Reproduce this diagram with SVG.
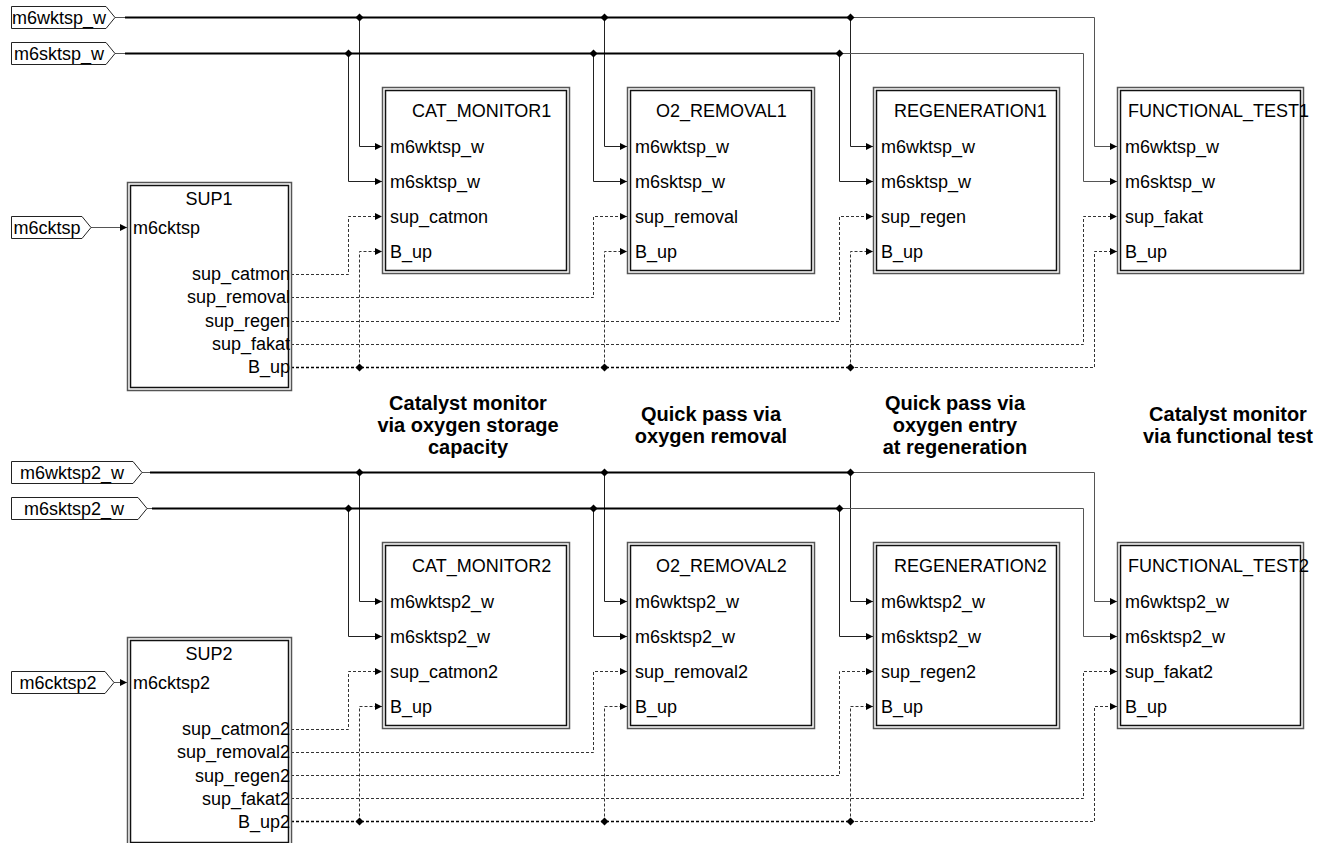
<svg xmlns="http://www.w3.org/2000/svg" xmlns:xlink="http://www.w3.org/1999/xlink" width="1318" height="843" viewBox="0 0 1318 843">
<style>
text{font-family:"Liberation Sans",Arial,sans-serif;font-size:18px;fill:#000}
.b{font-weight:bold;font-size:20px;text-anchor:middle}
.m{text-anchor:middle}
.e{text-anchor:end}
.sig{stroke:#555;stroke-width:1;fill:none}
.bus{stroke:#000;stroke-width:2;fill:none}
.drop{stroke:#222;stroke-width:1;fill:none}
.dt{stroke:#333;stroke-width:1;stroke-dasharray:3 2;fill:none}
.dtb{stroke:#000;stroke-width:1.6;stroke-dasharray:3 2;fill:none}
.outer{fill:#fff;stroke:#555;stroke-width:1.5}
.inner{fill:none;stroke:#111;stroke-width:1.5}
.tag{fill:#fff;stroke:#222;stroke-width:1}
.arr{marker-end:url(#ah)}
</style>
<defs>
<marker id="ah" markerUnits="userSpaceOnUse" markerWidth="8" markerHeight="8" refX="7" refY="3.5" orient="auto"><path d="M0,0 L7,3.5 L0,7 z" fill="#000"/></marker>
<path id="j" d="M-4,0 L0,-4 L4,0 L0,4 z" fill="#000"/>
</defs>

<g id="connectors">
<path class="sig" d="M115,17.5 H125"/>
<path class="bus" d="M125,17.5 H850"/>
<path class="sig arr" d="M850,17.5 H1094.5 V146.5 H1117"/>
<path class="drop arr" d="M359.5,17.5 V146.5 H382"/>
<path class="drop arr" d="M604.5,17.5 V146.5 H627"/>
<path class="drop arr" d="M850.5,17.5 V146.5 H873"/>
<path class="sig" d="M115,53.5 H125"/>
<path class="bus" d="M125,53.5 H839"/>
<path class="sig arr" d="M839,53.5 H1083.5 V181.5 H1117"/>
<path class="drop arr" d="M348.5,53.5 V181.5 H382"/>
<path class="drop arr" d="M593.5,53.5 V181.5 H627"/>
<path class="drop arr" d="M839.5,53.5 V181.5 H873"/>
<path class="sig arr" d="M91,227.5 H127"/>
<path class="dt arr" d="M291,274.5 H348.5 V216.5 H382"/>
<path class="dt arr" d="M291,297.5 H593.5 V216.5 H627"/>
<path class="dt arr" d="M291,321.5 H839.5 V216.5 H873"/>
<path class="dt arr" d="M291,344.5 H1083.5 V216.5 H1117"/>
<path class="dtb" d="M291,367.5 H850"/>
<path class="dt arr" d="M850,367.5 H1094.5 V251.5 H1117"/>
<path class="dt arr" d="M359.5,367.5 V251.5 H382"/>
<path class="dt arr" d="M604.5,367.5 V251.5 H627"/>
<path class="dt arr" d="M850.5,367.5 V251.5 H873"/>
<use xlink:href="#j" x="359.5" y="17.5"/><use xlink:href="#j" x="604.5" y="17.5"/><use xlink:href="#j" x="850.5" y="17.5"/>
<use xlink:href="#j" x="348.5" y="53.5"/><use xlink:href="#j" x="593.5" y="53.5"/><use xlink:href="#j" x="839.5" y="53.5"/>
<use xlink:href="#j" x="359.5" y="367.5"/><use xlink:href="#j" x="604.5" y="367.5"/><use xlink:href="#j" x="850.5" y="367.5"/>
<path class="sig" d="M142,472.5 H150"/>
<path class="bus" d="M150,472.5 H850"/>
<path class="sig arr" d="M850,472.5 H1094.5 V601.5 H1117"/>
<path class="drop arr" d="M359.5,472.5 V601.5 H382"/>
<path class="drop arr" d="M604.5,472.5 V601.5 H627"/>
<path class="drop arr" d="M850.5,472.5 V601.5 H873"/>
<path class="sig" d="M147,508.5 H152"/>
<path class="bus" d="M152,508.5 H839"/>
<path class="sig arr" d="M839,508.5 H1083.5 V636.5 H1117"/>
<path class="drop arr" d="M348.5,508.5 V636.5 H382"/>
<path class="drop arr" d="M593.5,508.5 V636.5 H627"/>
<path class="drop arr" d="M839.5,508.5 V636.5 H873"/>
<path class="sig arr" d="M114,682.5 H127"/>
<path class="dt arr" d="M291,729.5 H348.5 V671.5 H382"/>
<path class="dt arr" d="M291,752.5 H593.5 V671.5 H627"/>
<path class="dt arr" d="M291,775.5 H839.5 V671.5 H873"/>
<path class="dt arr" d="M291,798.5 H1083.5 V671.5 H1117"/>
<path class="dtb" d="M291,821.5 H850"/>
<path class="dt arr" d="M850,821.5 H1094.5 V706.5 H1117"/>
<path class="dt arr" d="M359.5,821.5 V706.5 H382"/>
<path class="dt arr" d="M604.5,821.5 V706.5 H627"/>
<path class="dt arr" d="M850.5,821.5 V706.5 H873"/>
<use xlink:href="#j" x="359.5" y="472.5"/><use xlink:href="#j" x="604.5" y="472.5"/><use xlink:href="#j" x="850.5" y="472.5"/>
<use xlink:href="#j" x="348.5" y="508.5"/><use xlink:href="#j" x="593.5" y="508.5"/><use xlink:href="#j" x="839.5" y="508.5"/>
<use xlink:href="#j" x="359.5" y="821.5"/><use xlink:href="#j" x="604.5" y="821.5"/><use xlink:href="#j" x="850.5" y="821.5"/>
</g>

<g id="in_m6wktsp_w"><path class="tag" d="M11.5,6.5 H106 L115,17.5 L106,28.5 H11.5 Z"/><text class="m" x="59" y="24">m6wktsp_w</text></g>
<g id="in_m6sktsp_w"><path class="tag" d="M11.5,42.5 H106 L115,53.5 L106,64.5 H11.5 Z"/><text class="m" x="59" y="60">m6sktsp_w</text></g>
<g id="in_m6cktsp"><path class="tag" d="M11.5,216.5 H82 L91,227.5 L82,238.5 H11.5 Z"/><text class="m" x="47" y="234">m6cktsp</text></g>
<g id="in_m6wktsp2_w"><path class="tag" d="M11.5,461.5 H133 L142,472.5 L133,483.5 H11.5 Z"/><text class="m" x="72" y="479">m6wktsp2_w</text></g>
<g id="in_m6sktsp2_w"><path class="tag" d="M11.5,497.5 H138 L147,508.5 L138,519.5 H11.5 Z"/><text class="m" x="74" y="515">m6sktsp2_w</text></g>
<g id="in_m6cktsp2"><path class="tag" d="M11.5,671.5 H105 L114,682.5 L105,693.5 H11.5 Z"/><text class="m" x="58" y="689">m6cktsp2</text></g>

<g id="SUP1">
<rect class="outer" x="127.5" y="182.5" width="164" height="208"/><rect class="inner" x="130.5" y="185.5" width="158" height="202"/>
<text class="m" x="209" y="205">SUP1</text>
<text x="133" y="234">m6cktsp</text>
<text class="e" x="290" y="280">sup_catmon</text>
<text class="e" x="290" y="303">sup_removal</text>
<text class="e" x="290" y="327">sup_regen</text>
<text class="e" x="290" y="350">sup_fakat</text>
<text class="e" x="290" y="373">B_up</text>
</g>
<g id="SUP2">
<rect class="outer" x="127.5" y="637.5" width="164" height="208"/><rect class="inner" x="130.5" y="640.5" width="158" height="202"/>
<text class="m" x="209" y="660">SUP2</text>
<text x="133" y="689">m6cktsp2</text>
<text class="e" x="290" y="735">sup_catmon2</text>
<text class="e" x="290" y="758">sup_removal2</text>
<text class="e" x="290" y="782">sup_regen2</text>
<text class="e" x="290" y="805">sup_fakat2</text>
<text class="e" x="290" y="828">B_up2</text>
</g>

<g id="CAT_MONITOR1">
<rect class="outer" x="382.5" y="87.5" width="187" height="186"/><rect class="inner" x="385.5" y="90.5" width="181" height="180"/>
<text x="412" y="117">CAT_MONITOR1</text>
<text x="390" y="153">m6wktsp_w</text><text x="390" y="188">m6sktsp_w</text><text x="390" y="223">sup_catmon</text><text x="390" y="258">B_up</text>
</g>
<g id="O2_REMOVAL1">
<rect class="outer" x="627.5" y="87.5" width="187" height="186"/><rect class="inner" x="630.5" y="90.5" width="181" height="180"/>
<text x="656" y="117">O2_REMOVAL1</text>
<text x="635" y="153">m6wktsp_w</text><text x="635" y="188">m6sktsp_w</text><text x="635" y="223">sup_removal</text><text x="635" y="258">B_up</text>
</g>
<g id="REGENERATION1">
<rect class="outer" x="873.5" y="87.5" width="186" height="186"/><rect class="inner" x="876.5" y="90.5" width="180" height="180"/>
<text x="894" y="117">REGENERATION1</text>
<text x="881" y="153">m6wktsp_w</text><text x="881" y="188">m6sktsp_w</text><text x="881" y="223">sup_regen</text><text x="881" y="258">B_up</text>
</g>
<g id="FUNCTIONAL_TEST1">
<rect class="outer" x="1117.5" y="87.5" width="186" height="186"/><rect class="inner" x="1120.5" y="90.5" width="180" height="180"/>
<text x="1128" y="117">FUNCTIONAL_TEST1</text>
<text x="1125" y="153">m6wktsp_w</text><text x="1125" y="188">m6sktsp_w</text><text x="1125" y="223">sup_fakat</text><text x="1125" y="258">B_up</text>
</g>

<g id="CAT_MONITOR2">
<rect class="outer" x="382.5" y="542.5" width="187" height="186"/><rect class="inner" x="385.5" y="545.5" width="181" height="180"/>
<text x="412" y="572">CAT_MONITOR2</text>
<text x="390" y="608">m6wktsp2_w</text><text x="390" y="643">m6sktsp2_w</text><text x="390" y="678">sup_catmon2</text><text x="390" y="713">B_up</text>
</g>
<g id="O2_REMOVAL2">
<rect class="outer" x="627.5" y="542.5" width="187" height="186"/><rect class="inner" x="630.5" y="545.5" width="181" height="180"/>
<text x="656" y="572">O2_REMOVAL2</text>
<text x="635" y="608">m6wktsp2_w</text><text x="635" y="643">m6sktsp2_w</text><text x="635" y="678">sup_removal2</text><text x="635" y="713">B_up</text>
</g>
<g id="REGENERATION2">
<rect class="outer" x="873.5" y="542.5" width="186" height="186"/><rect class="inner" x="876.5" y="545.5" width="180" height="180"/>
<text x="894" y="572">REGENERATION2</text>
<text x="881" y="608">m6wktsp2_w</text><text x="881" y="643">m6sktsp2_w</text><text x="881" y="678">sup_regen2</text><text x="881" y="713">B_up</text>
</g>
<g id="FUNCTIONAL_TEST2">
<rect class="outer" x="1117.5" y="542.5" width="186" height="186"/><rect class="inner" x="1120.5" y="545.5" width="180" height="180"/>
<text x="1128" y="572">FUNCTIONAL_TEST2</text>
<text x="1125" y="608">m6wktsp2_w</text><text x="1125" y="643">m6sktsp2_w</text><text x="1125" y="678">sup_fakat2</text><text x="1125" y="713">B_up</text>
</g>

<g id="notes">
<text class="b" x="468" y="410">Catalyst monitor</text>
<text class="b" x="468" y="432">via oxygen storage</text>
<text class="b" x="468" y="454">capacity</text>
<text class="b" x="711" y="421">Quick pass via</text>
<text class="b" x="711" y="443">oxygen removal</text>
<text class="b" x="955" y="410">Quick pass via</text>
<text class="b" x="955" y="432">oxygen entry</text>
<text class="b" x="955" y="454">at regeneration</text>
<text class="b" x="1228" y="421">Catalyst monitor</text>
<text class="b" x="1228" y="443">via functional test</text>
</g>
</svg>
